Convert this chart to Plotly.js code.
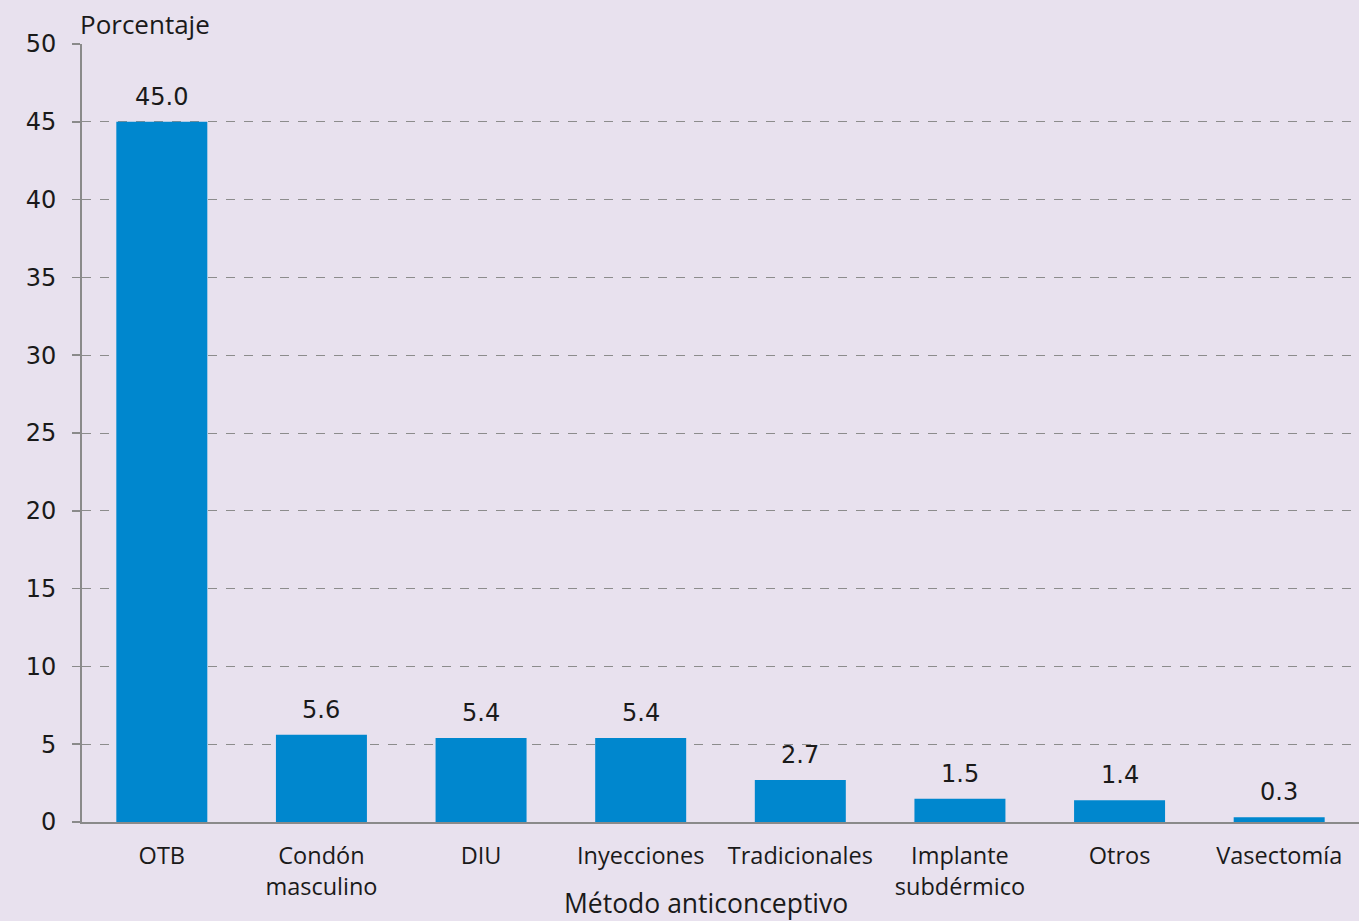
<!DOCTYPE html>
<html><head><meta charset="utf-8">
<script src="https://cdn.plot.ly/plotly-3.0.1.min.js"></script>
<style>html,body{margin:0;padding:0;background:#E8E1EE;}</style>
</head><body>
<div id="chart" style="width:1359px;height:921px;"></div>
<script>
const categories = ["OTB", "Condón<br>masculino", "DIU", "Inyecciones", "Tradicionales", "Implante<br>subdérmico", "Otros", "Vasectomía"];
const values = [45.0, 5.6, 5.4, 5.4, 2.7, 1.5, 1.4, 0.3];
const valueLabels = ["45.0", "5.6", "5.4", "5.4", "2.7", "1.5", "1.4", "0.3"];
const yTicks = [0, 5, 10, 15, 20, 25, 30, 35, 40, 45, 50];

const textFam = "Open Sans, Liberation Sans, sans-serif";
const numFam = "DejaVu Sans, sans-serif";
const trace = {
  type: 'bar', x: categories, y: values,
  marker: {color: '#0087CE'}, width: 0.57, hoverinfo: 'none'
};
const valueAnns = categories.map((c, i) => ({
  x: c, y: values[i], xref: 'x', yref: 'y', text: valueLabels[i],
  xanchor: 'center', yanchor: 'bottom', yshift: 9, showarrow: false,
  font: {family: numFam, size: 24, color: '#1a1a1a'}
}));
const layout = {
  width: 1359, height: 921,
  paper_bgcolor: '#E8E1EE', plot_bgcolor: '#E8E1EE',
  margin: {l: 82, r: 0, t: 44, b: 99},
  font: {family: textFam, size: 22, color: '#1a1a1a'},
  showlegend: false,
  xaxis: {
    type: 'category', showline: true, linecolor: '#8a8a8a', linewidth: 2,
    ticks: '', showgrid: false, tickfont: {family: textFam, size: 23.5},
    ticklabelstandoff: 12
  },
  yaxis: {
    range: [0, 50], tickvals: yTicks, ticktext: yTicks.map(String),
    showline: true, linecolor: '#8a8a8a', linewidth: 2,
    ticks: 'outside', ticklen: 8, tickcolor: '#8a8a8a', tickwidth: 1.5,
    showgrid: true, gridcolor: '#8c8c8c', griddash: 'dash', gridwidth: 1,
    zeroline: false, tickfont: {family: numFam, size: 24}, ticklabelstandoff: 11
  },
  annotations: [{
    text: 'Porcentaje', xref: 'paper', yref: 'paper', x: 0, y: 1,
    xanchor: 'left', yanchor: 'bottom', xshift: -4, yshift: 0, showarrow: false,
    font: {family: textFam, size: 26, color: '#1a1a1a'}
  }, {
    text: 'Método anticonceptivo', xref: 'paper', yref: 'paper', x: 0.4886, y: 0,
    xanchor: 'center', yanchor: 'middle', yshift: -81, showarrow: false,
    font: {family: textFam, size: 26.5, color: '#1a1a1a'}
  }].concat(valueAnns)
};
Plotly.newPlot('chart', [trace], layout, {displayModeBar: false, staticPlot: true});
</script>
</body></html>
